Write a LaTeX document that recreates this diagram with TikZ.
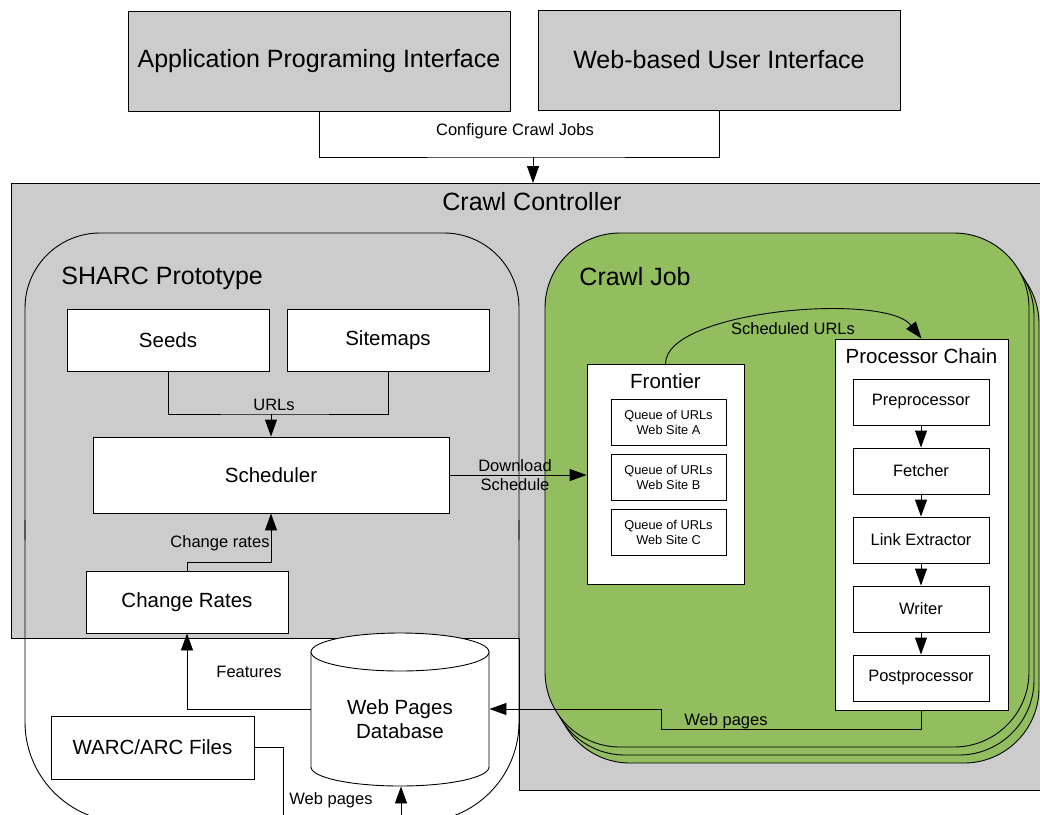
\documentclass[tikz,border=0pt]{standalone}
\usepackage{fontspec}
\setmainfont{Liberation Sans}
\usetikzlibrary{arrows.meta,calc}
\definecolor{ctrlgray}{RGB}{204,204,204}
\definecolor{jobgreen}{RGB}{147,190,96}
\newcommand\szA{\fontsize{25}{29}\selectfont}
\newcommand\szB{\fontsize{20.5}{24}\selectfont}
\newcommand\szC{\fontsize{16.5}{19}\selectfont}
\newcommand\szD{\fontsize{12.8}{15}\selectfont}
\begin{document}
\begin{tikzpicture}[x=1pt,y=-1pt,line width=0.9pt,
  box/.style={draw,fill=white,inner sep=0pt,align=center},
  graybox/.style={box,fill=ctrlgray,font=\szA},
  label/.style={inner sep=0pt,align=center,font=\szC},
  title/.style={inner sep=0pt,font=\szA},
  arr/.style={-{Triangle[length=17pt,width=12pt]}},
  card/.style={draw,fill=jobgreen,rounded corners=75pt}]
\useasboundingbox (0,0) rectangle (1040,814);

% user interfaces
\node[graybox,minimum width=382,minimum height=100] (api) at (319,61) {Application Programing Interface};
\node[graybox,minimum width=362,minimum height=100] (webui) at (719,60) {Web-based User Interface};
\coordinate (cfg) at (533,157);
\coordinate (ctrltop) at (533,183);

% crawl controller area
\draw[fill=ctrlgray] (11,183) -- (1045,183) -- (1045,790) -- (519,790) -- (519,638) -- (11,638) -- cycle;
\node[title] (ctrl) at (532,202) {Crawl Controller};

\draw (api.south) |- (cfg) -| (webui.south);
\node[label] (cfglbl) at (515,131) {Configure Crawl Jobs};
\draw[arr] (cfg) -- (ctrltop);

% SHARC prototype outline
\draw[rounded corners=75pt] (25,540) -- (25,233) -- (519,233) -- (519,540);
\draw[rounded corners=100pt] (25,520) -- (25,822) -- (519,822) -- (519,520);
\node[title,anchor=west] (sharc) at (61,278) {SHARC Prototype};

% crawl job cards
\draw[card] (555,249) rectangle (1039,763);
\draw[card] (550,241) rectangle (1034,755);
\draw[card] (545,233) rectangle (1029,747);
\node[title,anchor=west] (job) at (579,277) {Crawl Job};

% SHARC components
\node[box,font=\szB,minimum width=202,minimum height=62] (seeds) at (168,340) {Seeds};
\node[box,font=\szB,minimum width=202,minimum height=62] (sitemaps) at (388,340) {Sitemaps};
\node[box,font=\szB,minimum width=356,minimum height=76] (sched) at (271,475) {Scheduler};
\node[box,font=\szB,minimum width=202,minimum height=62] (rates) at (187,602) {Change Rates};
\node[box,font=\szB,minimum width=203,minimum height=63] (warc) at (152.5,747.5) {WARC/ARC Files};

\coordinate (urlj) at (271,414);
\draw (seeds.south) |- (urlj) -| (sitemaps.south);
\draw[arr] (urlj) -- (sched.north);
\node[label] (urllbl) at (274,405) {URLs};

\coordinate (crj) at (271,562);
\draw[arr] (rates.north) |- (crj) -- (sched.south);
\node[label] (crlbl) at (220,543) {Change rates};

% web pages database
\draw[fill=white] (311,652) -- (311,767) arc[start angle=180,end angle=0,x radius=89,y radius=19] -- (489,652);
\draw[fill=white] (400,652) ellipse[x radius=89,y radius=19];
\node[inner sep=0pt,minimum width=178,minimum height=154] (db) at (400,709) {};
\node[label,font=\szB] (dblbl) at (400,719) {Web Pages\\Database};

\draw[arr] (db.west) -| (rates.south);
\node[label] (featlbl) at (249,672) {Features};

\coordinate (warcout) at (283,830);
\draw (warc.east) -| (warcout);
\coordinate (dbin) at (401,830);
\draw[arr] (dbin) -- (dbin |- db.south);
\node[label] (wplbl) at (331,800) {Web pages};

% frontier
\node[box,minimum width=157,minimum height=220] (frontier) at (665.5,474) {};
\node[inner sep=0pt,font=\szB] (frtitle) at (665.5,381) {Frontier};
\node[box,font=\szD,minimum width=115,minimum height=46] (qa) at (668.5,422) {Queue of URLs\\Web Site A};
\node[box,font=\szD,minimum width=115,minimum height=46] (qb) at (668.5,477) {Queue of URLs\\Web Site B};
\node[box,font=\szD,minimum width=115,minimum height=46] (qc) at (668.5,532) {Queue of URLs\\Web Site C};

\draw[arr] (sched.east) -- (sched.east -| frontier.west);
\node[label] (dllbl) at (515,475) {Download\\Schedule};

% processor chain
\node[box,minimum width=173,minimum height=371] (chain) at (921.5,524.5) {};
\node[inner sep=0pt,font=\szB] (chtitle) at (921.5,356) {Processor Chain};
\node[box,font=\szC,minimum width=136,minimum height=46] (pre) at (921,402) {Preprocessor};
\node[box,font=\szC,minimum width=136,minimum height=46] (fetch) at (921,471) {Fetcher};
\node[box,font=\szC,minimum width=136,minimum height=46] (link) at (921,540) {Link Extractor};
\node[box,font=\szC,minimum width=136,minimum height=46] (writer) at (921,609) {Writer};
\node[box,font=\szC,minimum width=136,minimum height=46] (post) at (921,678) {Postprocessor};
\draw[arr] (pre) -- (fetch);
\draw[arr] (fetch) -- (link);
\draw[arr] (link) -- (writer);
\draw[arr] (writer) -- (post);

\draw[arr] (frontier.north) .. controls (666,310) and (885,292) .. (chain.north);
\node[label] (schlbl) at (793,329) {Scheduled URLs};

\coordinate (wpa) at (661,729);
\draw[arr] (chain.south) |- (wpa) |- (db.east);
\node[label] (wp2lbl) at (726,721) {Web pages};
\end{tikzpicture}
\end{document}
